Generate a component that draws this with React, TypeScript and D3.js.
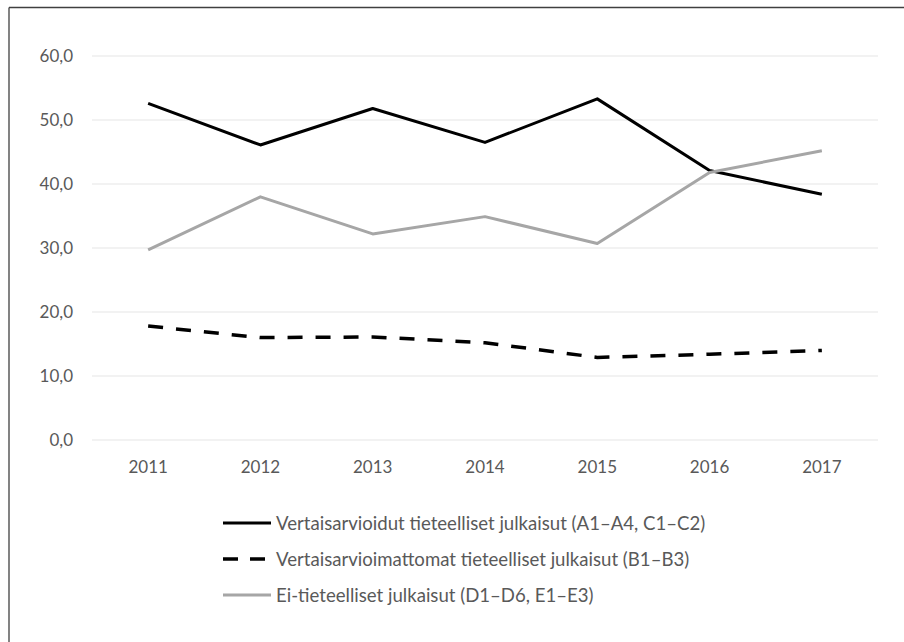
import React from "react";
import * as d3 from "d3";

const years = ["2011", "2012", "2013", "2014", "2015", "2016", "2017"];
const peerReviewed = [52.6, 46.1, 51.8, 46.5, 53.3, 42.1, 38.4];
const nonPeerReviewed = [17.8, 16.0, 16.1, 15.2, 12.9, 13.4, 14.0];
const nonScientific = [29.7, 38.0, 32.2, 34.9, 30.7, 41.8, 45.2];
const yTicks = [0, 10, 20, 30, 40, 50, 60];
const seriesNames = [
  "Vertaisarvioidut tieteelliset julkaisut (A1–A4, C1–C2)",
  "Vertaisarvioimattomat tieteelliset julkaisut (B1–B3)",
  "Ei-tieteelliset julkaisut (D1–D6, E1–E3)",
];

const W = 904;
const H = 642;
const FONT = "Lato, 'Open Sans', sans-serif";
const FS = 17;
const LFS = 18.6;

export default function App() {
  const x = d3.scaleBand<string>().domain(years).range([92, 878]);
  const y = d3.scaleLinear().domain([0, 60]).range([440, 56]);
  const line = d3
    .line<number>()
    .x((_, i) => (x(years[i]) as number) + x.bandwidth() / 2)
    .y((d) => y(d));

  const series = [
    { name: seriesNames[0], values: peerReviewed, color: "#000000", width: 3, dash: "" },
    { name: seriesNames[1], values: nonPeerReviewed, color: "#000000", width: 3.5, dash: "15 13" },
    { name: seriesNames[2], values: nonScientific, color: "#a6a6a6", width: 3, dash: "" },
  ];

  const legendY = [523, 559, 595];

  return (
    <svg
      width={W}
      height={H}
      style={{ position: "absolute", left: 0, top: 0, background: "#fff" }}
    >
      <rect x={0} y={0} width={W} height={H} fill="#fff" />
      {/* frame */}
      <line x1={9} x2={9} y1={7.5} y2={H} stroke="#404040" strokeWidth={1.3} />
      <line x1={9} x2={W} y1={7.5} y2={7.5} stroke="#404040" strokeWidth={1.3} />

      {/* gridlines */}
      {yTicks.map((t) => (
        <line
          key={t}
          x1={92}
          x2={878}
          y1={y(t)}
          y2={y(t)}
          stroke="#e6e6e6"
          strokeWidth={1.2}
        />
      ))}
      {/* y labels */}
      {yTicks.map((t) => (
        <text
          key={"l" + t}
          x={73}
          y={y(t)}
          dy="0.35em"
          textAnchor="end"
          fontFamily={FONT}
          fontSize={FS}
          fill="#595959"
        >
          {t.toFixed(1).replace(".", ",")}
        </text>
      ))}
      {/* x labels */}
      {years.map((yr) => (
        <text
          key={yr}
          x={(x(yr) as number) + x.bandwidth() / 2}
          y={467}
          dy="0.35em"
          textAnchor="middle"
          fontFamily={FONT}
          fontSize={FS}
          fill="#595959"
        >
          {yr}
        </text>
      ))}

      {/* lines */}
      {series.map((s) => (
        <path
          key={s.name}
          d={line(s.values) as string}
          fill="none"
          stroke={s.color}
          strokeWidth={s.width}
          strokeDasharray={s.dash || undefined}
          strokeLinejoin="round"
        />
      ))}

      {/* legend */}
      {series.map((s, i) => (
        <g key={"lg" + i}>
          <line
            x1={223}
            x2={271}
            y1={legendY[i]}
            y2={legendY[i]}
            stroke={s.color}
            strokeWidth={s.width}
            strokeDasharray={i === 1 ? "15 12" : undefined}
          />
          <text
            x={276}
            y={legendY[i]}
            dy="0.35em"
            fontFamily={FONT}
            fontSize={LFS}
            fill="#595959"
          >
            {s.name}
          </text>
        </g>
      ))}
    </svg>
  );
}
